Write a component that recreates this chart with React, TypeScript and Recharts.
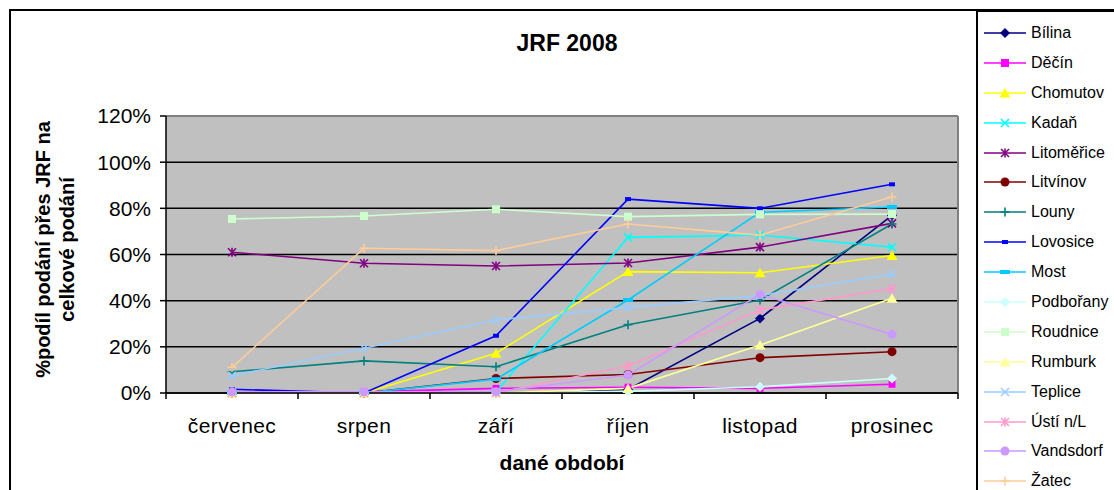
import React from "react";
import { LineChart, Line, XAxis, YAxis, CartesianGrid, Legend } from "recharts";

// months on the x axis
const categories = ["červenec", "srpen", "září", "říjen", "listopad", "prosinec"];
const yTicks = [0, 0.2, 0.4, 0.6, 0.8, 1.0, 1.2];

// share of JRF filings per office
const bilina = [0, 0, 0, 0.015, 0.323, 0.77];
const decin = [0.005, 0.005, 0.02, 0.025, 0.02, 0.038];
const chomutov = [0, 0, 0.172, 0.526, 0.521, 0.596];
const kadan = [0, 0, 0.005, 0.674, 0.684, 0.632];
const litomerice = [0.61, 0.562, 0.55, 0.563, 0.632, 0.735];
const litvinov = [0, 0, 0.063, 0.08, 0.153, 0.179];
const louny = [0.092, 0.139, 0.114, 0.296, 0.403, 0.732];
const lovosice = [0.016, 0, 0.248, 0.84, 0.8, 0.904];
const most = [0, 0, 0.06, 0.403, 0.783, 0.806];
const podborany = [0, 0, 0, 0.007, 0.027, 0.063];
const roudnice = [0.754, 0.767, 0.796, 0.764, 0.774, 0.775];
const rumburk = [0, 0, 0, 0.02, 0.208, 0.41];
const teplice = [0.074, 0.194, 0.316, 0.371, 0.422, 0.515];
const usti = [0, 0, 0, 0.117, 0.36, 0.452];
const vandsdorf = [0.005, 0.005, 0.005, 0.078, 0.427, 0.254];
const zatec = [0.111, 0.627, 0.617, 0.732, 0.684, 0.849];

type Shape = "diamond" | "square" | "triangle" | "x" | "star" | "circle" | "plus" | "smallbar" | "bar";

const series: { name: string; values: number[]; color: string; shape: Shape; size?: number }[] = [
  { name: "Bílina", values: bilina, color: "#000080", shape: "diamond" },
  { name: "Děčín", values: decin, color: "#FF00FF", shape: "square" },
  { name: "Chomutov", values: chomutov, color: "#FFFF00", shape: "triangle" },
  { name: "Kadaň", values: kadan, color: "#00FFFF", shape: "x" },
  { name: "Litoměřice", values: litomerice, color: "#800080", shape: "star" },
  { name: "Litvínov", values: litvinov, color: "#800000", shape: "circle" },
  { name: "Louny", values: louny, color: "#008080", shape: "plus" },
  { name: "Lovosice", values: lovosice, color: "#0000FF", shape: "smallbar" },
  { name: "Most", values: most, color: "#00CCFF", shape: "bar" },
  { name: "Podbořany", values: podborany, color: "#CCFFFF", shape: "diamond" },
  { name: "Roudnice", values: roudnice, color: "#CCFFCC", shape: "square", size: 8 },
  { name: "Rumburk", values: rumburk, color: "#FFFF99", shape: "triangle" },
  { name: "Teplice", values: teplice, color: "#99CCFF", shape: "x" },
  { name: "Ústí n/L", values: usti, color: "#FF99CC", shape: "star" },
  { name: "Vandsdorf", values: vandsdorf, color: "#CC99FF", shape: "circle" },
  { name: "Žatec", values: zatec, color: "#FFCC99", shape: "plus" },
];

const data = categories.map((month, i) => {
  const row: Record<string, string | number> = { month };
  series.forEach((s) => (row[s.name] = s.values[i]));
  return row;
});

const FONT = "'Liberation Sans', Arial, sans-serif";
const W = 1114;
const H = 490;
const PLOT_LEFT = 166;
const PLOT_RIGHT = 958;
const PLOT_TOP = 116;
const PLOT_BOTTOM = 393;
const BAND = (PLOT_RIGHT - PLOT_LEFT) / categories.length;

function Marker({ cx, cy, shape, color, size }: { cx: number; cy: number; shape: Shape; color: string; size?: number }) {
  const s = size ?? 7;
  const h = s / 2;
  switch (shape) {
    case "diamond":
      return <polygon points={`${cx},${cy - 5} ${cx + 5},${cy} ${cx},${cy + 5} ${cx - 5},${cy}`} fill={color} />;
    case "square":
      return <rect x={cx - h} y={cy - h} width={s} height={s} fill={color} />;
    case "triangle":
      return <polygon points={`${cx},${cy - 5} ${cx + 5.5},${cy + 4.5} ${cx - 5.5},${cy + 4.5}`} fill={color} />;
    case "x":
      return (
        <g stroke={color} strokeWidth={1.6}>
          <line x1={cx - 4} y1={cy - 4} x2={cx + 4} y2={cy + 4} />
          <line x1={cx - 4} y1={cy + 4} x2={cx + 4} y2={cy - 4} />
        </g>
      );
    case "star":
      return (
        <g stroke={color} strokeWidth={1.6}>
          <line x1={cx - 4} y1={cy - 4} x2={cx + 4} y2={cy + 4} />
          <line x1={cx - 4} y1={cy + 4} x2={cx + 4} y2={cy - 4} />
          <line x1={cx} y1={cy - 4.5} x2={cx} y2={cy + 4.5} />
        </g>
      );
    case "circle":
      return <circle cx={cx} cy={cy} r={4.5} fill={color} />;
    case "plus":
      return (
        <g stroke={color} strokeWidth={1.6}>
          <line x1={cx - 4.5} y1={cy} x2={cx + 4.5} y2={cy} />
          <line x1={cx} y1={cy - 4.5} x2={cx} y2={cy + 4.5} />
        </g>
      );
    case "smallbar":
      return <rect x={cx - 3} y={cy - 2} width={6} height={4} fill={color} />;
    case "bar":
      return <rect x={cx - 5} y={cy - 2} width={10} height={4} fill={color} />;
  }
  return null;
}

function MonthTick(props: any) {
  const { x, payload, index } = props;
  return (
    <g>
      <line x1={x - BAND / 2} y1={PLOT_BOTTOM} x2={x - BAND / 2} y2={PLOT_BOTTOM + 6} stroke="#000" strokeWidth={1.5} />
      {index === categories.length - 1 && (
        <line x1={x + BAND / 2} y1={PLOT_BOTTOM} x2={x + BAND / 2} y2={PLOT_BOTTOM + 6} stroke="#000" strokeWidth={1.5} />
      )}
      <text
        x={x}
        y={PLOT_BOTTOM + 32}
        textAnchor="middle"
        dominantBaseline="central"
        fontSize={21}
        letterSpacing={0.4}
        fill="#000"
        fontFamily={FONT}
      >
        {payload.value}
      </text>
    </g>
  );
}

function YTitle(props: any) {
  const vb = props.viewBox || { x: 0, y: PLOT_TOP, width: PLOT_LEFT, height: PLOT_BOTTOM - PLOT_TOP };
  const cy = vb.y + vb.height / 2 - 5;
  return (
    <g fontFamily={FONT} fontWeight="bold" fontSize={20} fill="#000">
      <text x={43} y={cy} transform={`rotate(-90, 43, ${cy})`} textAnchor="middle" dominantBaseline="central">
        %podíl podání přes JRF na
      </text>
      <text x={67} y={cy} transform={`rotate(-90, 67, ${cy})`} textAnchor="middle" dominantBaseline="central">
        celkové podání
      </text>
    </g>
  );
}

function XTitle(props: any) {
  const vb = props.viewBox || { x: PLOT_LEFT, width: PLOT_RIGHT - PLOT_LEFT };
  return (
    <text x={vb.x + vb.width / 2} y={462} textAnchor="middle" dominantBaseline="central" fontFamily={FONT} fontWeight="bold" fontSize={21} fill="#000">
      dané období
    </text>
  );
}

function LegendBox() {
  return (
    <div
      style={{
        width: 200,
        height: 520,
        border: "2px solid #000",
        background: "#fff",
        boxSizing: "border-box",
        paddingTop: 6,
        fontFamily: FONT,
        fontSize: 16,
      }}
    >
      {series.map((s) => (
        <div key={s.name} style={{ height: 29.9, display: "flex", alignItems: "center" }}>
          <svg width={48} height={14} style={{ marginLeft: 5 }}>
            <line x1={1} y1={7} x2={43} y2={7} stroke={s.color} strokeWidth={1.6} />
            <Marker cx={22} cy={7} shape={s.shape} color={s.color} size={s.size ?? 8} />
          </svg>
          <span style={{ color: "#000" }}>{s.name}</span>
        </div>
      ))}
    </div>
  );
}

export default function App() {
  return (
    <div style={{ position: "absolute", left: 0, top: 0, width: W, height: H, overflow: "hidden", background: "#fff" }}>
      <div
        style={{
          position: "absolute",
          left: 9,
          top: 9,
          width: 1200,
          height: 600,
          border: "2px solid #000",
          boxSizing: "border-box",
        }}
      />
      <div style={{ position: "absolute", left: 0, top: 0 }}>
        <LineChart width={W} height={H} data={data} margin={{ top: PLOT_TOP, right: W - PLOT_RIGHT, bottom: 0, left: 0 }}>
          <CartesianGrid vertical={false} stroke="#000" strokeWidth={1.5} fill="#C0C0C0" fillOpacity={1} />
          <CartesianGrid horizontalPoints={[PLOT_TOP]} verticalPoints={[PLOT_RIGHT]} stroke="#808080" strokeWidth={2} />
          <XAxis
            dataKey="month"
            height={H - PLOT_BOTTOM}
            padding={{ left: BAND / 2, right: BAND / 2 }}
            axisLine={{ stroke: "#000", strokeWidth: 1.5 }}
            tickLine={false}
            tick={<MonthTick />}
            interval={0}
            label={<XTitle />}
          />
          <YAxis
            width={PLOT_LEFT}
            domain={[0, 1.2]}
            ticks={yTicks}
            tickFormatter={(v: number) => `${Math.round(v * 100)}%`}
            axisLine={{ stroke: "#000", strokeWidth: 1.5 }}
            tickLine={{ stroke: "#000", strokeWidth: 1.5 }}
            tickSize={6}
            tickMargin={9}
            tick={{ fill: "#000", fontSize: 21, fontFamily: FONT }}
            label={<YTitle />}
          />
          {series.map((s) => (
            <Line
              key={s.name}
              type="linear"
              dataKey={s.name}
              stroke={s.color}
              strokeWidth={1.6}
              isAnimationActive={false}
              dot={(p: any) =>
                p.cx == null || p.cy == null ? (
                  <g key={`${s.name}-${p.index}`} />
                ) : (
                  <Marker key={`${s.name}-${p.index}`} cx={p.cx} cy={p.cy} shape={s.shape} color={s.color} size={s.size} />
                )
              }
              activeDot={false}
            />
          ))}
          <Legend
            layout="vertical"
            align="center"
            verticalAlign="middle"
            content={<LegendBox />}
            wrapperStyle={{ left: 976, top: 10, width: 200, height: 520 }}
          />
          <text x={567} y={43} textAnchor="middle" dominantBaseline="central" fontFamily={FONT} fontWeight="bold" fontSize={23} fill="#000">
            JRF 2008
          </text>
        </LineChart>
      </div>
    </div>
  );
}
